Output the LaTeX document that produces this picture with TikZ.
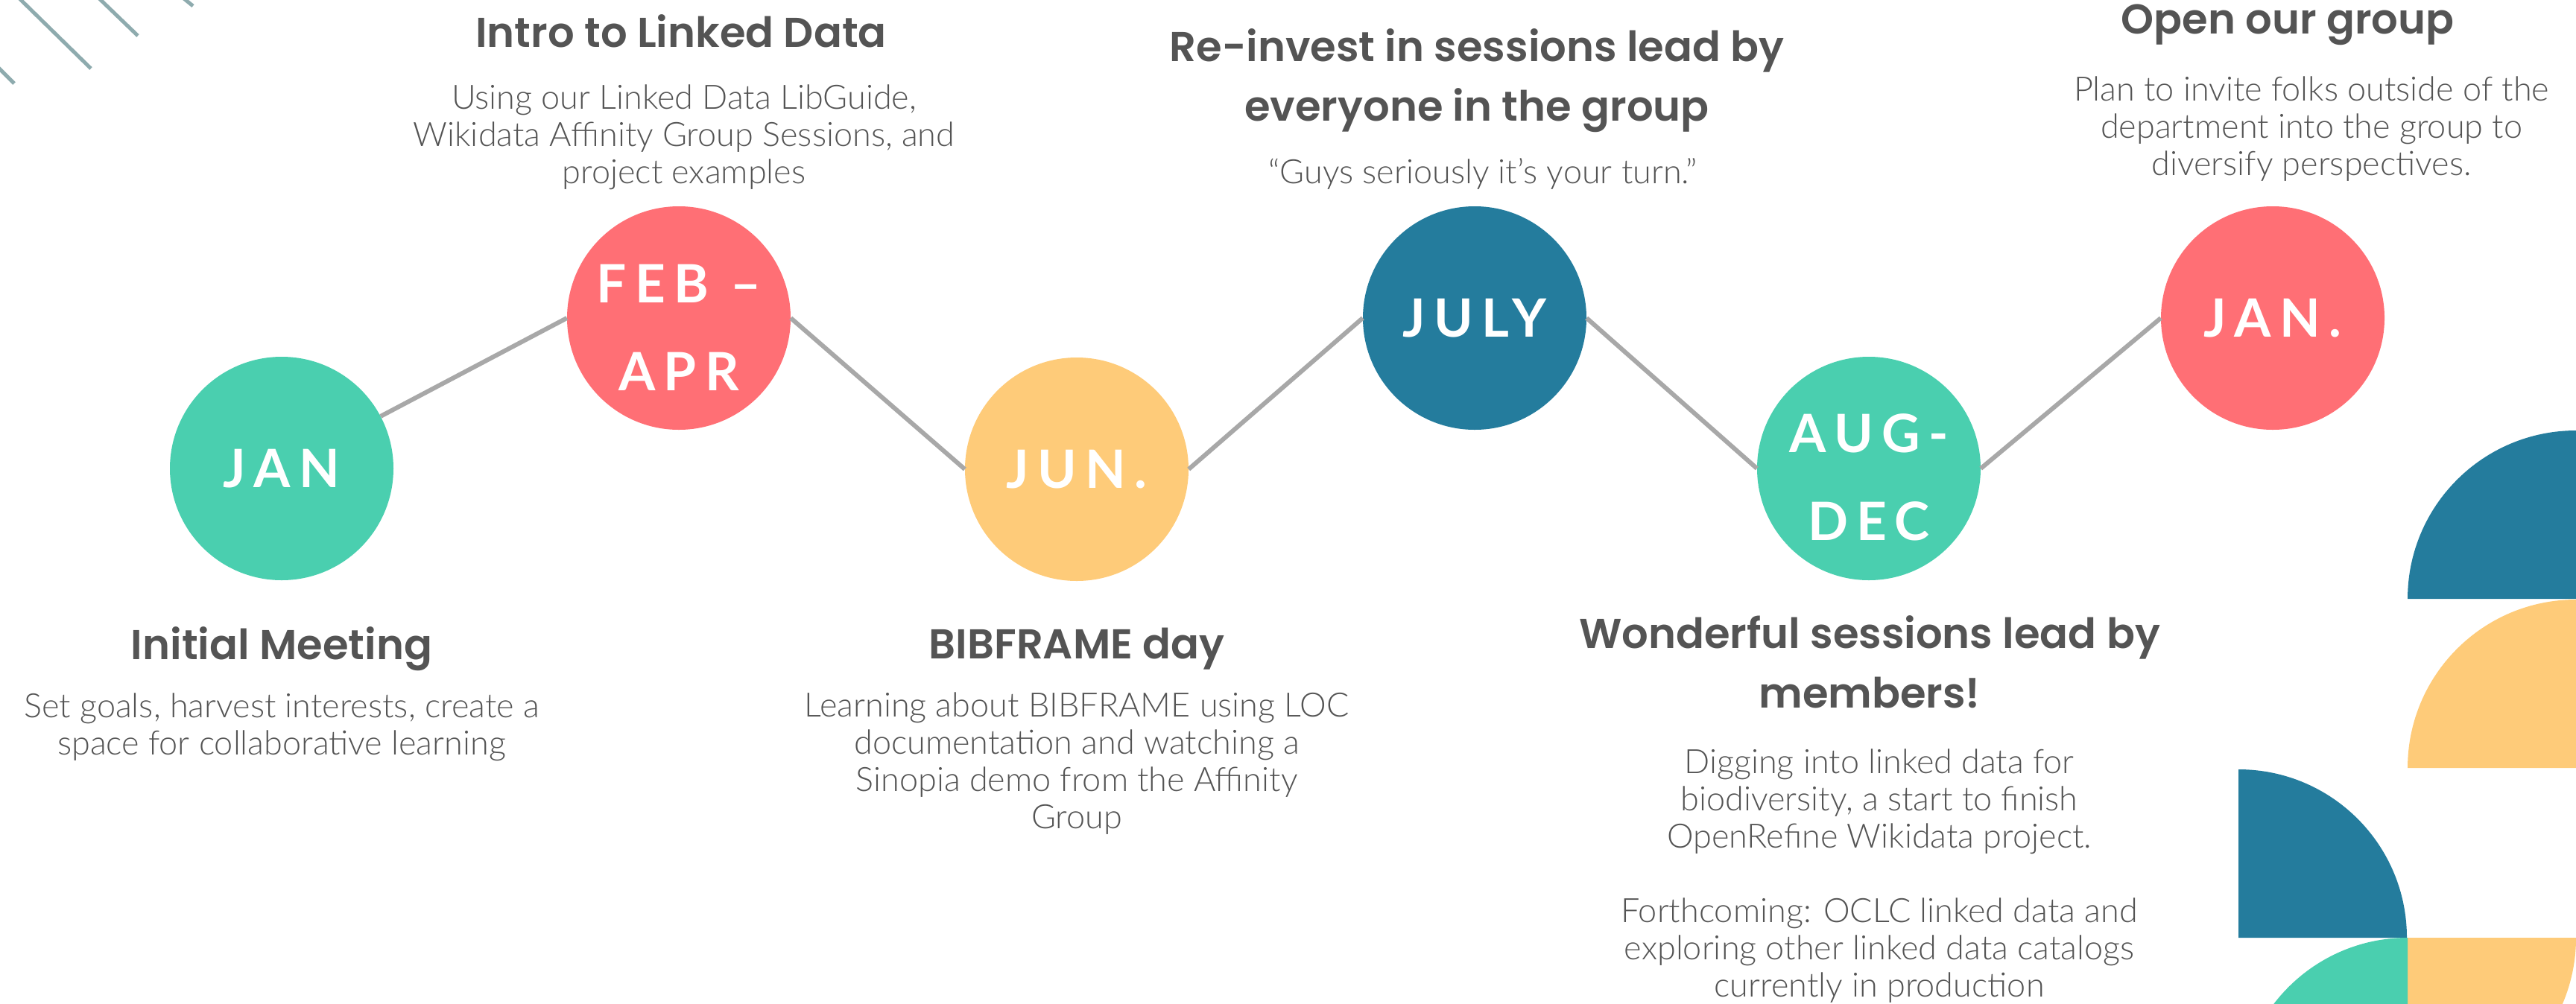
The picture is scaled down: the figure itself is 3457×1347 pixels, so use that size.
\documentclass[tikz,border=0pt]{standalone}
\usepackage{fontspec}
\setmainfont{Lato}
\newfontfamily\headfont{Poppins SemiBold}
\newfontfamily\bodyfont{Lato Light}
\newfontfamily\monthfont{Lato}[LetterSpace=16]

\definecolor{tealc}{HTML}{4ACFAF}
\definecolor{coral}{HTML}{FF6F75}
\definecolor{sand}{HTML}{FECB79}
\definecolor{ocean}{HTML}{247C9D}
\definecolor{ink}{HTML}{545454}
\definecolor{linkgray}{HTML}{A8A8A8}
\definecolor{stripe}{HTML}{8EABAE}

% taller first line, pushes a two line month label down a bit
\newcommand{\lowerstrut}{\rule{0pt}{76pt}}

\tikzset{
  monthdot/.style={circle, minimum size=300pt, inner sep=0pt, text=white, align=center,
    font=\monthfont\bfseries\fontsize{71}{118}\selectfont},
  headtxt/.style={text=ink, align=center, font=\headfont\fontsize{56}{80}\selectfont},
  bodytxt/.style={text=ink, align=center, font=\bodyfont\fontsize{45}{50}\selectfont},
  linkline/.style={draw=linkgray, line width=6pt},
}

\begin{document}
\begin{tikzpicture}[x=1pt,y=-1pt]
    % Page frame, everything outside is cut off
    \useasboundingbox (0,0) rectangle (3457,1347);
    \clip (0,0) rectangle (3457,1347);

    % Stripes in the top left corner
    \draw[stripe, line width=5pt] (-5,88) -- (19,112);
    \draw[stripe, line width=5pt] (23,-5) -- (122,92);
    \draw[stripe, line width=5pt] (130,-5) -- (185,48);
    \draw[stripe, line width=5pt] (243,-5) -- (259,8);

    % Quarter discs on the right edge
    \fill[ocean] (3457,804) -- (3231,804) arc[start angle=180, end angle=270, radius=226] -- cycle;
    \fill[sand] (3457,1031) -- (3231,1031) arc[start angle=180, end angle=270, radius=226] -- cycle;
    \fill[ocean] (3004,1259) -- (3004,1033) arc[start angle=270, end angle=360, radius=226] -- cycle;
    \fill[sand] (3231,1259) -- (3457,1259) arc[start angle=0, end angle=90, radius=226] -- cycle;
    \fill[tealc] (3231,1485) -- (3005,1485) arc[start angle=180, end angle=270, radius=226] -- cycle;

    % The months
    \node[monthdot, fill=tealc] (jan) at (378,629) {JAN};
    \node[monthdot, fill=coral] (feb) at (911,427) {\lowerstrut FEB –\\APR};
    \node[monthdot, fill=sand] (jun) at (1445,630) {JUN.};
    \node[monthdot, fill=ocean] (july) at (1979,427) {JULY};
    \node[monthdot, fill=tealc] (aug) at (2508,629) {\lowerstrut AUG-\\DEC};
    \node[monthdot, fill=coral] (jannext) at (3050,427) {JAN.};

    % Zig-zag between them
    \draw[linkline] (jan) -- (feb.west);
    \draw[linkline] (feb.east) -- (jun.west);
    \draw[linkline] (jun.east) -- (july.west);
    \draw[linkline] (july.east) -- (aug.west);
    \draw[linkline] (aug.east) -- (jannext.west);

    % Texts below and above
    \node[headtxt] (meetingtitle) at (378,871) {Initial Meeting};
    \node[bodytxt] (meetingtext) at (378,976) {Set goals, harvest interests, create a\\space for collaborative learning};

    \node[headtxt] (introtitle) at (914,42) {Intro to Linked Data};
    \node[bodytxt] (introtext) at (918,184) {Using our Linked Data LibGuide,\\Wikidata Affinity Group Sessions, and\\project examples};

    \node[headtxt] (bibtitle) at (1445,871) {BIBFRAME day};
    \node[bodytxt] (bibtext) at (1445,1025) {Learning about BIBFRAME using LOC\\documentation and watching a\\Sinopia demo from the Affinity\\Group};

    \node[headtxt] (julytitle) at (1982,108) {Re-invest in sessions lead by\\everyone in the group};
    \node[bodytxt] (julytext) at (1990,233) {“Guys seriously it’s your turn.”};

    \node[headtxt] (augtitle) at (2509,889) {Wonderful sessions lead by\\members!};
    \node[bodytxt] (augtext) at (2522,1176) {Digging into linked data for\\biodiversity, a start to finish\\OpenRefine Wikidata project.\\[50pt]Forthcoming: OCLC linked data and\\exploring other linked data catalogs\\currently in production};

    \node[headtxt] (opentitle) at (3070,33) {Open our group};
    \node[bodytxt] (opentext) at (3102,173) {Plan to invite folks outside of the\\department into the group to\\diversify perspectives.};
\end{tikzpicture}
\end{document}
